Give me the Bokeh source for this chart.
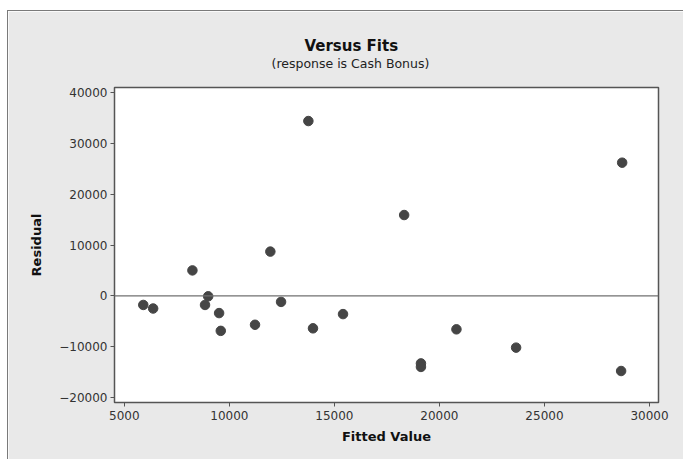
from bokeh.plotting import figure
from bokeh.models import FixedTicker, Span, Title, BasicTickFormatter
from bokeh.embed import file_html
from bokeh.resources import INLINE

fitted = [5900, 6370, 8240, 8990, 8840, 9510, 9590, 11220, 11950, 12460,
          13760, 13980, 15410, 18320, 20810, 19120, 19120, 23650, 28700, 28650]
residual = [-1800, -2500, 5000, -100, -1800, -3400, -6900, -5700, 8700, -1200,
            34400, -6400, -3600, 15900, -6600, -13300, -14000, -10200, 26200, -14800]
x_ticks = [5000, 10000, 15000, 20000, 25000, 30000]
y_ticks = [-20000, -10000, 0, 10000, 20000, 30000, 40000]

GRAY_BG = "#e9e9e9"
DARK = "#454545"
FONT = "DejaVu Sans"

p = figure(width=676, height=449, output_backend="svg", toolbar_location=None,
           title=None,
           x_range=(4530, 30430), y_range=(-21000, 41000),
           min_border_left=106, min_border_right=26, min_border_top=76, min_border_bottom=58,
           background_fill_color="white", border_fill_color=GRAY_BG,
           outline_line_color="#555555", outline_line_width=1.5,
           margin=(10, 0, 0, 7))
p.styles = {"border-top": "1px solid #7a7a7a", "border-left": "1px solid #7a7a7a"}

p.xgrid.visible = False
p.ygrid.visible = False

for ax, ticks in ((p.xaxis[0], x_ticks), (p.yaxis[0], y_ticks)):
    ax.ticker = FixedTicker(ticks=ticks)
    ax.formatter = BasicTickFormatter(use_scientific=False)
    ax.major_tick_in = 0
    ax.major_tick_out = 4
    ax.minor_tick_line_color = None
    ax.axis_line_color = "#555555"
    ax.major_tick_line_color = "#555555"
    ax.major_label_text_font = FONT
    ax.major_label_text_font_size = "12px"
    ax.major_label_text_color = "#333333"
    ax.axis_label_text_font = FONT
    ax.axis_label_text_font_style = "bold"
    ax.axis_label_text_font_size = "13px"
    ax.axis_label_text_color = "#111111"

p.xaxis.axis_label = "Fitted Value"
p.yaxis.axis_label = "Residual"
p.xaxis.major_label_standoff = 4
p.yaxis.major_label_standoff = 3
p.xaxis.axis_label_standoff = 6
p.yaxis.axis_label_standoff = 12

p.add_layout(Span(location=0, dimension="width", line_color="#707070", line_width=1.2))

p.scatter(fitted, residual, size=9.5, fill_color=DARK, line_color=DARK)

p.add_layout(Title(text="(response is Cash Bonus)", align="left", offset=157,
                   text_font=FONT, text_font_size="12.5px", text_font_style="normal",
                   text_color="#222222", standoff=34), "above")
p.add_layout(Title(text="Versus Fits", align="left", offset=190,
                   text_font=FONT, text_font_size="15px", text_font_style="bold",
                   text_color="#111111", standoff=-37), "above")

open("out.html", "w").write(file_html(p, INLINE))
